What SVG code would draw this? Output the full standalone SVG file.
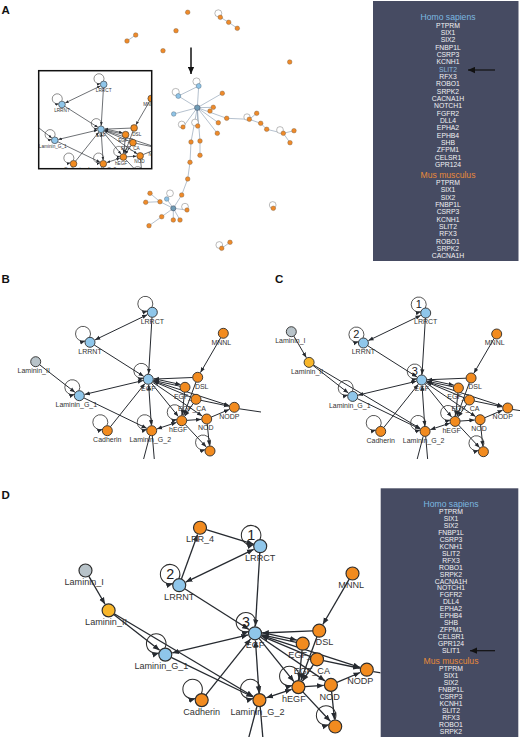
<svg xmlns="http://www.w3.org/2000/svg" xmlns:xlink="http://www.w3.org/1999/xlink" width="520" height="737" viewBox="0 0 520 737">
<style>
.lbl{font-family:"Liberation Sans",Arial,sans-serif;font-size:7px;fill:#333;text-anchor:middle}
.num{font-family:"Liberation Sans",Arial,sans-serif;font-size:11px;fill:#222;text-anchor:middle}
.pl{font-family:"Liberation Sans",Arial,sans-serif;font-weight:bold;font-size:11.5px;fill:#111}
.nb{fill:#8fc6ea;stroke:#2d2d2d;stroke-width:0.9}
.no{fill:#f28b1f;stroke:#2d2d2d;stroke-width:0.9}
.ng{fill:#b8c3c9;stroke:#2d2d2d;stroke-width:0.9}
.ny{fill:#f8b62a;stroke:#2d2d2d;stroke-width:0.9}
.lp{fill:none;stroke:#2d2d2d;stroke-width:0.8;marker-end:url(#ah)}
.e{stroke:#262a30;stroke-width:1;fill:none;marker-end:url(#ah)}
.e2{stroke:#262a30;stroke-width:1;fill:none;marker-start:url(#ah);marker-end:url(#ah)}
.ep{stroke:#262a30;stroke-width:1;fill:none}
.oe{stroke:#8397ad;stroke-width:0.6;fill:none}
.on{fill:#ee8a2a;stroke:#7a5a3a;stroke-width:0.4}
.ob{fill:#8fc3e6;stroke:#4a6070;stroke-width:0.4}
.oc{fill:#6f9bb5;stroke:#334;stroke-width:0.4}
.ol{fill:#fff;stroke:#777;stroke-width:0.5}
.box{fill:#464b62}
.li{font-family:"Liberation Sans",Arial,sans-serif;font-size:6.8px;fill:#f2f2f4;text-anchor:middle}
.hs{font-family:"Liberation Sans",Arial,sans-serif;font-size:8.6px;fill:#7cb8e0;text-anchor:middle}
.mm{font-family:"Liberation Sans",Arial,sans-serif;font-size:8.6px;fill:#e88a3a;text-anchor:middle}
</style>
<defs>
<marker id="ah" viewBox="0 0 10 10" refX="10" refY="5" markerWidth="5.2" markerHeight="5.2" markerUnits="userSpaceOnUse" orient="auto-start-reverse"><path d="M0,1L10,5L0,9z" fill="#262a30"/></marker>
<marker id="bigah" viewBox="0 0 10 10" refX="10" refY="5" markerWidth="7" markerHeight="7" markerUnits="userSpaceOnUse" orient="auto"><path d="M0,0.5L10,5L0,9.5z" fill="#111"/></marker>
<path id="lp" class="lp" d="M-0.37,-4.99A7.5,7.5 0 1 0 -4.82,-1.32"/>
<clipPath id="clipB"><rect x="0" y="286" width="261" height="173"/></clipPath>
<clipPath id="clipC"><rect x="261" y="286" width="259" height="173"/></clipPath>
<clipPath id="clipD"><rect x="0" y="462" width="380.5" height="275"/></clipPath>
<clipPath id="clipIn"><rect x="38.7" y="70.7" width="113" height="98"/></clipPath>
</defs>
<rect width="520" height="737" fill="#fff"/>

<!-- Panel labels -->
<text class="pl" x="1.5" y="13.5">A</text>
<text class="pl" x="1.5" y="283">B</text>
<text class="pl" x="275" y="283">C</text>
<text class="pl" x="1.5" y="499">D</text>

<!-- Panel A overview network -->
<g id="overview">
<g id="overview-edges">
<line class="oe" x1="220.3" y1="17.3" x2="228.7" y2="22.3"/><line class="oe" x1="228.7" y1="22.3" x2="237.3" y2="28.3"/>
<line class="oe" x1="135.7" y1="35" x2="127" y2="41"/>
<line class="oe" x1="197.3" y1="107.7" x2="198.7" y2="86"/><line class="oe" x1="197.3" y1="107.7" x2="178.3" y2="96"/>
<line class="oe" x1="197.3" y1="107.7" x2="173.7" y2="114"/><line class="oe" x1="197.3" y1="107.7" x2="222.3" y2="93.3"/>
<line class="oe" x1="197.3" y1="107.7" x2="213.3" y2="107.3"/><line class="oe" x1="197.3" y1="107.7" x2="226.7" y2="118.3"/>
<line class="oe" x1="197.3" y1="107.7" x2="218.3" y2="122.7"/><line class="oe" x1="197.3" y1="107.7" x2="217.3" y2="133.3"/>
<line class="oe" x1="197.3" y1="107.7" x2="197.7" y2="126"/><line class="oe" x1="197.3" y1="107.7" x2="183" y2="127"/>
<line class="oe" x1="197.3" y1="107.7" x2="191" y2="142"/><line class="oe" x1="197.3" y1="107.7" x2="200" y2="141"/>
<line class="oe" x1="198.7" y1="86" x2="178.3" y2="96"/>
<line class="oe" x1="226.7" y1="118.3" x2="249.3" y2="119.3"/><line class="oe" x1="249.3" y1="119.3" x2="256.7" y2="113.3"/>
<line class="oe" x1="249.3" y1="119.3" x2="260.7" y2="123.3"/><line class="oe" x1="260.7" y1="123.3" x2="266.7" y2="129.3"/>
<line class="oe" x1="266.7" y1="129.3" x2="283.3" y2="133.3"/><line class="oe" x1="283.3" y1="133.3" x2="294" y2="130.7"/>
<line class="oe" x1="283.3" y1="133.3" x2="290" y2="142.7"/>
<line class="oe" x1="191" y1="142" x2="190" y2="162.3"/><line class="oe" x1="200" y1="141" x2="200" y2="155.3"/>
<line class="oe" x1="190" y1="162.3" x2="187.7" y2="179"/><line class="oe" x1="187.7" y1="179" x2="181.7" y2="195"/>
<line class="oe" x1="181.7" y1="195" x2="173.3" y2="208.3"/>
<line class="oe" x1="173.3" y1="208.3" x2="160" y2="201.7"/><line class="oe" x1="173.3" y1="208.3" x2="166.7" y2="199"/>
<line class="oe" x1="173.3" y1="208.3" x2="161.7" y2="216.7"/><line class="oe" x1="173.3" y1="208.3" x2="173.3" y2="220"/>
<line class="oe" x1="173.3" y1="208.3" x2="180" y2="220"/><line class="oe" x1="173.3" y1="208.3" x2="187" y2="210"/>
<line class="oe" x1="150" y1="193.3" x2="160" y2="201.7"/><line class="oe" x1="145.7" y1="202.3" x2="160" y2="201.7"/>
<line class="oe" x1="161.7" y1="216.7" x2="149" y2="225.7"/>
<line class="oe" x1="221.7" y1="248.3" x2="230" y2="242.3"/>
</g>
<g id="overview-nodes">
<circle class="ol" cx="218.3" cy="13.3" r="3.5"/><circle class="ol" cx="196.5" cy="81.5" r="3.6"/><circle class="ol" cx="175.7" cy="92" r="3.6"/>
<circle class="ol" cx="195" cy="122.5" r="3.4"/><circle class="ol" cx="181.7" cy="124.5" r="3.4"/><circle class="ol" cx="280" cy="130" r="3.4"/>
<circle class="ol" cx="170" cy="193.3" r="3.4"/><circle class="ol" cx="185" cy="206.7" r="3.4"/><circle class="ol" cx="272.7" cy="205" r="3.4"/>
<circle class="ol" cx="219.3" cy="245" r="3.4"/><circle class="ol" cx="247" cy="117" r="3.2"/>
<circle class="on" cx="187.7" cy="12.3" r="2.3"/><circle class="on" cx="220.3" cy="17.3" r="2.3"/><circle class="on" cx="228.7" cy="22.3" r="2.3"/>
<circle class="on" cx="237.3" cy="28.3" r="2.3"/><circle class="on" cx="176" cy="30.7" r="2.3"/><circle class="on" cx="135.7" cy="35" r="2.3"/>
<circle class="on" cx="127" cy="41" r="2.3"/><circle class="on" cx="163" cy="50.7" r="2.3"/><circle class="on" cx="289.7" cy="62" r="2.3"/>
<circle class="ob" cx="198.7" cy="86" r="2.5"/><circle class="ob" cx="178.3" cy="96" r="2.5"/><circle class="ob" cx="173.7" cy="114" r="2.3"/>
<circle class="on" cx="222.3" cy="93.3" r="2.3"/><circle class="on" cx="213.3" cy="107.3" r="2.3"/><circle class="on" cx="210" cy="111" r="2.3"/>
<circle class="on" cx="226.7" cy="118.3" r="2.3"/><circle class="on" cx="218.3" cy="122.7" r="2.3"/><circle class="on" cx="217.3" cy="133.3" r="2.3"/>
<circle class="on" cx="197.7" cy="126" r="2.3"/><circle class="on" cx="183" cy="127" r="2.2"/>
<circle class="on" cx="256.7" cy="113.3" r="2.3"/><circle class="on" cx="249.3" cy="119.3" r="2.3"/><circle class="on" cx="260.7" cy="123.3" r="2.3"/>
<circle class="on" cx="266.7" cy="129.3" r="2.3"/><circle class="on" cx="283.3" cy="133.3" r="2.3"/><circle class="on" cx="294" cy="130.7" r="2.3"/>
<circle class="on" cx="290" cy="142.7" r="2.3"/>
<circle class="on" cx="191" cy="142" r="2.3"/><circle class="on" cx="200" cy="141" r="2.3"/><circle class="on" cx="200" cy="155.3" r="2.3"/>
<circle class="on" cx="190" cy="162.3" r="2.3"/><circle class="on" cx="187.7" cy="179" r="2.3"/><circle class="on" cx="181.7" cy="195" r="2.3"/>
<circle class="on" cx="150" cy="193.3" r="2.3"/><circle class="on" cx="145.7" cy="202.3" r="2.3"/><circle class="on" cx="160" cy="201.7" r="2.3"/>
<circle class="ob" cx="166.7" cy="199" r="2.3"/><circle class="on" cx="187" cy="210" r="2.2"/><circle class="on" cx="161.7" cy="216.7" r="2.3"/>
<circle class="on" cx="149" cy="225.7" r="2.3"/><circle class="on" cx="173.3" cy="220" r="2.3"/><circle class="on" cx="180" cy="220" r="2.3"/>
<circle class="oc" cx="173.3" cy="208.3" r="2.6"/>
<circle class="on" cx="273.3" cy="208.3" r="2.3"/><circle class="on" cx="221.7" cy="248.3" r="2.3"/><circle class="on" cx="230" cy="242.3" r="2.3"/>
<circle class="oc" cx="197.3" cy="107.7" r="2.8"/>
</g>
<line x1="191" y1="47.5" x2="191" y2="74" stroke="#111" stroke-width="1.5" marker-end="url(#bigah)"/>
</g>

<!-- Panel A inset (zoom of panel B network) -->
<g id="inset">
<rect x="38.7" y="70.7" width="113" height="98" fill="#fff"/>
<g clip-path="url(#clipIn)"><use xlink:href="#b-net" href="#b-net" transform="translate(101,129.3) scale(0.67) translate(-148.3,-379.3)"/></g>
<rect x="38.7" y="70.7" width="113" height="98" fill="none" stroke="#111" stroke-width="1.5"/>
</g>

<!-- Panel A list -->
<g id="listA">
<rect class="box" x="373" y="1" width="145.5" height="260"/>
<text class="hs" x="448" y="20.3">Homo sapiens</text>
<text class="li" x="448" y="27.5">PTPRM<tspan x="448" dy="7.35">SIX1</tspan><tspan x="448" dy="7.35">SIX2</tspan><tspan x="448" dy="7.35">FNBP1L</tspan><tspan x="448" dy="7.35">CSRP3</tspan><tspan x="448" dy="7.35">KCNH1</tspan><tspan x="448" dy="7.35" fill="#8ab8dc">SLIT2</tspan><tspan x="448" dy="7.35">RFX3</tspan><tspan x="448" dy="7.35">ROBO1</tspan><tspan x="448" dy="7.35">SRPK2</tspan><tspan x="448" dy="7.35">CACNA1H</tspan><tspan x="448" dy="7.35">NOTCH1</tspan><tspan x="448" dy="7.35">FGFR2</tspan><tspan x="448" dy="7.35">DLL4</tspan><tspan x="448" dy="7.35">EPHA2</tspan><tspan x="448" dy="7.35">EPHB4</tspan><tspan x="448" dy="7.35">SHB</tspan><tspan x="448" dy="7.35">ZFPM1</tspan><tspan x="448" dy="7.35">CELSR1</tspan><tspan x="448" dy="7.35">GPR124</tspan></text>
<text class="mm" x="448" y="177.6">Mus musculus</text>
<text class="li" x="448" y="184.8">PTPRM<tspan x="448" dy="7.35">SIX1</tspan><tspan x="448" dy="7.35">SIX2</tspan><tspan x="448" dy="7.35">FNBP1L</tspan><tspan x="448" dy="7.35">CSRP3</tspan><tspan x="448" dy="7.35">KCNH1</tspan><tspan x="448" dy="7.35">SLIT2</tspan><tspan x="448" dy="7.35">RFX3</tspan><tspan x="448" dy="7.35">ROBO1</tspan><tspan x="448" dy="7.35">SRPK2</tspan><tspan x="448" dy="7.35">CACNA1H</tspan></text>
<line x1="495" y1="70" x2="468" y2="70" stroke="#111" stroke-width="1.2" marker-end="url(#bigah)"/>
</g>

<!-- Panel B -->
<g id="panelB" clip-path="url(#clipB)">
<g id="b-net" transform="translate(148.3,379.3)">
<g id="b-edges">
<line class="e2" x1="-0.96" y1="-64.61" x2="-53.34" y2="-39.39"/>
<line class="e" x1="3.7" y1="-62" x2="0.33" y2="-5.49"/>
<line class="e" x1="-54.08" y1="-34.32" x2="-4.64" y2="-2.95"/>
<line class="e" x1="-108.66" y1="-14.53" x2="-73.34" y2="13.02"/>
<line class="e2" x1="-63.65" y1="15.13" x2="-5.35" y2="1.27"/>
<line class="e" x1="-64.5" y1="18.58" x2="-1.55" y2="49.01"/>
<line class="e" x1="-37.88" y1="47.49" x2="-3.43" y2="4.3"/>
<line class="e2" x1="0.36" y1="5.49" x2="3.04" y2="45.91"/>
<line class="e2" x1="8.62" y1="49.66" x2="28.18" y2="43.14"/>
<line class="e" x1="72.48" y1="-41.68" x2="52.17" y2="-6.75"/>
<line class="e" x1="44.4" y1="-1.8" x2="5.5" y2="-0.22"/>
<line class="e" x1="31.81" y1="6.93" x2="5.37" y2="1.17"/>
<line class="e" x1="5.75" y1="-0.59" x2="32.19" y2="5.17"/>
<line class="e" x1="43.09" y1="18.07" x2="5.07" y2="2.13"/>
<line class="e" x1="4.75" y1="1.55" x2="80.77" y2="26.3"/>
<line class="e" x1="4.13" y1="2.81" x2="53.85" y2="36.61"/>
<line class="e" x1="3.14" y1="3.89" x2="29.95" y2="37.12"/>
<line class="e" x1="36.81" y1="45.05" x2="57.95" y2="67.68"/>
<line class="e" x1="47.67" y1="2.69" x2="35.3" y2="36.24"/>
<line class="e" x1="36.21" y1="12.98" x2="33.94" y2="35.93"/>
<line class="e" x1="44.92" y1="24.16" x2="36.46" y2="36.83"/>
<line class="e" x1="38.39" y1="41.06" x2="52.91" y2="40.07"/>
<line class="e" x1="52.59" y1="21.02" x2="80.62" y2="26.88"/>
<line class="e" x1="63" y1="37.75" x2="80.94" y2="30.15"/>
<line class="e" x1="58.91" y1="44.67" x2="61.14" y2="66.23"/>
<line class="ep" x1="91" y1="29.5" x2="135" y2="36"/>
<line class="ep" x1="1.5" y1="56.3" x2="-14" y2="115"/>
<line class="ep" x1="4" y1="56.5" x2="9" y2="115"/>
</g>
<g id="b-lrrct" transform="translate(4,-67)"><use href="#lp"/><circle class="nb" r="5"/><text class="lbl" y="11.3">LRRCT</text></g>
<g id="b-lrrnt" transform="translate(-58.3,-37)"><use href="#lp"/><circle class="nb" r="5"/><text class="lbl" y="11.3">LRRNT</text></g>
<g id="b-laminin-ii" transform="translate(-112.6,-17.6)"><circle class="ng" r="5"/><text class="lbl" x="-2" y="11.3">Laminin_II</text></g>
<g id="b-laminin-g1" transform="translate(-69,16.4)"><use href="#lp"/><circle class="nb" r="5"/><text class="lbl" x="-3" y="11.3">Laminin_G_1</text></g>
<g id="b-mnnl" transform="translate(75,-46)"><circle class="no" r="5"/><text class="lbl" x="-2" y="11.3">MNNL</text></g>
<g id="b-dsl" transform="translate(49.4,-2)"><circle class="no" r="5"/><text class="lbl" x="4" y="11.3">DSL</text></g>
<g id="b-egf2" transform="translate(36.7,8)"><circle class="no" r="5"/><text class="lbl" y="11.3">EGF_2</text></g>
<g id="b-egfca" transform="translate(47.7,20)"><circle class="no" r="5"/><text class="lbl" x="-4" y="11.3">EGF_CA</text></g>
<g id="b-hegf" transform="translate(33.4,41.4)"><use href="#lp"/><circle class="no" r="5"/><text class="lbl" x="-3.5" y="11.3">hEGF</text></g>
<g id="b-nod" transform="translate(58.4,39.7)"><circle class="no" r="5"/><text class="lbl" x="-1" y="11.3">NOD</text></g>
<g id="b-nodp" transform="translate(86,28)"><circle class="no" r="5"/><text class="lbl" x="-5" y="11.3">NODP</text></g>
<g id="b-cadherin" transform="translate(-41,51.4)"><use href="#lp"/><circle class="no" r="5"/><text class="lbl" y="11.3">Cadherin</text></g>
<g id="b-laminin-g2" transform="translate(3.4,51.4)"><use href="#lp"/><circle class="no" r="5"/><text class="lbl" x="-1.5" y="11.3">Laminin_G_2</text></g>
<g id="b-bottom" transform="translate(61.7,71.7)"><use href="#lp"/><circle class="no" r="5"/></g>
<g id="b-egf" transform="translate(0,0)"><use href="#lp"/><circle class="nb" r="5"/><text class="lbl" y="11.3">EGF</text></g>
</g>
</g>

<!-- Panel C -->
<g id="panelC" clip-path="url(#clipC)">
<g id="c-net" transform="translate(421.7,380)">
<g id="c-edges">
<line class="e" x1="-127.89" y1="-43.98" x2="-115.36" y2="-22.36"/>
<line class="e" x1="-108.3" y1="-15.04" x2="-1.33" y2="48.59"/>
<line class="e2" x1="-0.96" y1="-64.61" x2="-53.34" y2="-39.39"/>
<line class="e" x1="3.7" y1="-62" x2="0.33" y2="-5.49"/>
<line class="e" x1="-54.08" y1="-34.32" x2="-4.64" y2="-2.95"/>
<line class="e" x1="-108.66" y1="-14.53" x2="-73.34" y2="13.02"/>
<line class="e2" x1="-63.65" y1="15.13" x2="-5.35" y2="1.27"/>
<line class="e" x1="-64.5" y1="18.58" x2="-1.55" y2="49.01"/>
<line class="e" x1="-37.88" y1="47.49" x2="-3.43" y2="4.3"/>
<line class="e2" x1="0.36" y1="5.49" x2="3.04" y2="45.91"/>
<line class="e2" x1="8.62" y1="49.66" x2="28.18" y2="43.14"/>
<line class="e" x1="72.48" y1="-41.68" x2="52.17" y2="-6.75"/>
<line class="e" x1="44.4" y1="-1.8" x2="5.5" y2="-0.22"/>
<line class="e" x1="31.81" y1="6.93" x2="5.37" y2="1.17"/>
<line class="e" x1="5.75" y1="-0.59" x2="32.19" y2="5.17"/>
<line class="e" x1="43.09" y1="18.07" x2="5.07" y2="2.13"/>
<line class="e" x1="4.75" y1="1.55" x2="80.77" y2="26.3"/>
<line class="e" x1="4.13" y1="2.81" x2="53.85" y2="36.61"/>
<line class="e" x1="3.14" y1="3.89" x2="29.95" y2="37.12"/>
<line class="e" x1="36.81" y1="45.05" x2="57.95" y2="67.68"/>
<line class="e" x1="47.67" y1="2.69" x2="35.3" y2="36.24"/>
<line class="e" x1="36.21" y1="12.98" x2="33.94" y2="35.93"/>
<line class="e" x1="44.92" y1="24.16" x2="36.46" y2="36.83"/>
<line class="e" x1="38.39" y1="41.06" x2="52.91" y2="40.07"/>
<line class="e" x1="52.59" y1="21.02" x2="80.62" y2="26.88"/>
<line class="e" x1="63" y1="37.75" x2="80.94" y2="30.15"/>
<line class="e" x1="58.91" y1="44.67" x2="61.14" y2="66.23"/>
<line class="ep" x1="91" y1="29.5" x2="135" y2="36"/>
<line class="ep" x1="1.5" y1="56.3" x2="-14" y2="115"/>
<line class="ep" x1="4" y1="56.5" x2="9" y2="115"/>
</g>
<g id="c-laminin-i" transform="translate(-130.4,-48.3)"><circle class="ng" r="5"/><text class="lbl" x="-1" y="11.3">Laminin_I</text></g>
<g id="c-laminin-ii" transform="translate(-112.6,-17.6)"><circle class="ny" r="5"/><text class="lbl" x="-2" y="11.3">Laminin_II</text></g>
<g id="c-lrrct" transform="translate(4,-67)"><use href="#lp"/><text class="num" x="-7" y="-4.6">1</text><circle class="nb" r="5"/><text class="lbl" y="11.3">LRRCT</text></g>
<g id="c-lrrnt" transform="translate(-58.3,-37)"><use href="#lp"/><text class="num" x="-7" y="-4.6">2</text><circle class="nb" r="5"/><text class="lbl" y="11.3">LRRNT</text></g>
<g id="c-laminin-g1" transform="translate(-69,16.4)"><use href="#lp"/><circle class="nb" r="5"/><text class="lbl" x="-3" y="11.3">Laminin_G_1</text></g>
<g id="c-mnnl" transform="translate(75,-46)"><circle class="no" r="5"/><text class="lbl" x="-2" y="11.3">MNNL</text></g>
<g id="c-dsl" transform="translate(49.4,-2)"><circle class="no" r="5"/><text class="lbl" x="4" y="11.3">DSL</text></g>
<g id="c-egf2" transform="translate(36.7,8)"><circle class="no" r="5"/><text class="lbl" y="11.3">EGF_2</text></g>
<g id="c-egfca" transform="translate(47.7,20)"><circle class="no" r="5"/><text class="lbl" x="-4" y="11.3">EGF_CA</text></g>
<g id="c-hegf" transform="translate(33.4,41.4)"><use href="#lp"/><circle class="no" r="5"/><text class="lbl" x="-3.5" y="11.3">hEGF</text></g>
<g id="c-nod" transform="translate(58.4,39.7)"><circle class="no" r="5"/><text class="lbl" x="-1" y="11.3">NOD</text></g>
<g id="c-nodp" transform="translate(86,28)"><circle class="no" r="5"/><text class="lbl" x="-5" y="11.3">NODP</text></g>
<g id="c-cadherin" transform="translate(-41,51.4)"><use href="#lp"/><circle class="no" r="5"/><text class="lbl" y="11.3">Cadherin</text></g>
<g id="c-laminin-g2" transform="translate(3.4,51.4)"><use href="#lp"/><circle class="no" r="5"/><text class="lbl" x="-1.5" y="11.3">Laminin_G_2</text></g>
<g id="c-bottom" transform="translate(61.7,71.7)"><use href="#lp"/><circle class="no" r="5"/></g>
<g id="c-egf" transform="translate(0,0)"><use href="#lp"/><text class="num" x="-7" y="-4.6">3</text><circle class="nb" r="5"/><text class="lbl" y="11.3">EGF</text></g>
</g>
</g>

<!-- Panel D -->
<g id="panelD" clip-path="url(#clipD)">
<g id="d-net" transform="translate(255,633.3) scale(1.3)">
<g id="d-edges">
<line class="e" x1="-56.6" y1="-41.7" x2="-44.17" y2="-76.03"/>
<line class="e" x1="-37.52" y1="-79.73" x2="-1.26" y2="-68.61"/>
<line class="e" x1="-127.89" y1="-43.98" x2="-115.36" y2="-22.36"/>
<line class="e" x1="-108.3" y1="-15.04" x2="-1.33" y2="48.59"/>
<line class="e2" x1="-0.96" y1="-64.61" x2="-53.34" y2="-39.39"/>
<line class="e" x1="3.7" y1="-62" x2="0.33" y2="-5.49"/>
<line class="e" x1="-54.08" y1="-34.32" x2="-4.64" y2="-2.95"/>
<line class="e" x1="-108.66" y1="-14.53" x2="-73.34" y2="13.02"/>
<line class="e2" x1="-63.65" y1="15.13" x2="-5.35" y2="1.27"/>
<line class="e" x1="-64.5" y1="18.58" x2="-1.55" y2="49.01"/>
<line class="e" x1="-37.88" y1="47.49" x2="-3.43" y2="4.3"/>
<line class="e2" x1="0.36" y1="5.49" x2="3.04" y2="45.91"/>
<line class="e2" x1="8.62" y1="49.66" x2="28.18" y2="43.14"/>
<line class="e" x1="72.48" y1="-41.68" x2="52.17" y2="-6.75"/>
<line class="e" x1="44.4" y1="-1.8" x2="5.5" y2="-0.22"/>
<line class="e" x1="31.81" y1="6.93" x2="5.37" y2="1.17"/>
<line class="e" x1="5.75" y1="-0.59" x2="32.19" y2="5.17"/>
<line class="e" x1="43.09" y1="18.07" x2="5.07" y2="2.13"/>
<line class="e" x1="4.75" y1="1.55" x2="80.77" y2="26.3"/>
<line class="e" x1="4.13" y1="2.81" x2="53.85" y2="36.61"/>
<line class="e" x1="3.14" y1="3.89" x2="29.95" y2="37.12"/>
<line class="e" x1="36.81" y1="45.05" x2="57.95" y2="67.68"/>
<line class="e" x1="47.67" y1="2.69" x2="35.3" y2="36.24"/>
<line class="e" x1="36.21" y1="12.98" x2="33.94" y2="35.93"/>
<line class="e" x1="44.92" y1="24.16" x2="36.46" y2="36.83"/>
<line class="e" x1="38.39" y1="41.06" x2="52.91" y2="40.07"/>
<line class="e" x1="52.59" y1="21.02" x2="80.62" y2="26.88"/>
<line class="e" x1="63" y1="37.75" x2="80.94" y2="30.15"/>
<line class="e" x1="58.91" y1="44.67" x2="61.14" y2="66.23"/>
<line class="ep" x1="91" y1="29.5" x2="135" y2="36"/>
<line class="ep" x1="1.5" y1="56.3" x2="-14" y2="115"/>
<line class="ep" x1="4" y1="56.5" x2="9" y2="115"/>
</g>
<g id="d-lrr4" transform="translate(-42.3,-81.2)"><circle class="no" r="5"/><text class="lbl" y="11.3">LRR_4</text></g>
<g id="d-laminin-i" transform="translate(-130.4,-48.3)"><circle class="ng" r="5"/><text class="lbl" x="-1" y="11.3">Laminin_I</text></g>
<g id="d-laminin-ii" transform="translate(-112.6,-17.6)"><circle class="ny" r="5"/><text class="lbl" x="-2" y="11.3">Laminin_II</text></g>
<g id="d-lrrct" transform="translate(4,-67)"><use href="#lp"/><text class="num" x="-7" y="-4.6">1</text><circle class="nb" r="5"/><text class="lbl" y="11.3">LRRCT</text></g>
<g id="d-lrrnt" transform="translate(-58.3,-37)"><use href="#lp"/><text class="num" x="-7" y="-4.6">2</text><circle class="nb" r="5"/><text class="lbl" y="11.3">LRRNT</text></g>
<g id="d-laminin-g1" transform="translate(-69,16.4)"><use href="#lp"/><circle class="nb" r="5"/><text class="lbl" x="-3" y="11.3">Laminin_G_1</text></g>
<g id="d-mnnl" transform="translate(75,-46)"><circle class="no" r="5"/><text class="lbl" x="-1" y="11.3">MNNL</text></g>
<g id="d-dsl" transform="translate(49.4,-2)"><circle class="no" r="5"/><text class="lbl" x="4" y="11.3">DSL</text></g>
<g id="d-egf2" transform="translate(36.7,8)"><circle class="no" r="5"/><text class="lbl" y="11.3">EGF_2</text></g>
<g id="d-egfca" transform="translate(47.7,20)"><circle class="no" r="5"/><text class="lbl" x="-4" y="11.3">EGF_CA</text></g>
<g id="d-hegf" transform="translate(33.4,41.4)"><use href="#lp"/><circle class="no" r="5"/><text class="lbl" x="-3.5" y="11.3">hEGF</text></g>
<g id="d-nod" transform="translate(58.4,39.7)"><circle class="no" r="5"/><text class="lbl" x="-1" y="11.3">NOD</text></g>
<g id="d-nodp" transform="translate(86,28)"><circle class="no" r="5"/><text class="lbl" x="-5" y="11.3">NODP</text></g>
<g id="d-cadherin" transform="translate(-41,51.4)"><use href="#lp"/><circle class="no" r="5"/><text class="lbl" y="11.3">Cadherin</text></g>
<g id="d-laminin-g2" transform="translate(3.4,51.4)"><use href="#lp"/><circle class="no" r="5"/><text class="lbl" x="-1.5" y="11.3">Laminin_G_2</text></g>
<g id="d-bottom" transform="translate(61.7,71.7)"><use href="#lp"/><circle class="no" r="5"/></g>
<g id="d-egf" transform="translate(0,0)"><use href="#lp"/><text class="num" x="-7" y="-4.6">3</text><circle class="nb" r="5"/><text class="lbl" y="11.3">EGF</text></g>
</g>
</g>

<!-- Panel D list -->
<g id="listD">
<rect class="box" x="380.7" y="488.3" width="137.6" height="248.7"/>
<text class="hs" x="451" y="506.7">Homo sapiens</text>
<text class="li" x="451" y="513.8">PTPRM<tspan x="451" dy="6.97">SIX1</tspan><tspan x="451" dy="6.97">SIX2</tspan><tspan x="451" dy="6.97">FNBP1L</tspan><tspan x="451" dy="6.97">CSRP3</tspan><tspan x="451" dy="6.97">KCNH1</tspan><tspan x="451" dy="6.97">SLIT2</tspan><tspan x="451" dy="6.97">RFX3</tspan><tspan x="451" dy="6.97">ROBO1</tspan><tspan x="451" dy="6.97">SRPK2</tspan><tspan x="451" dy="6.97">CACNA1H</tspan><tspan x="451" dy="6.97">NOTCH1</tspan><tspan x="451" dy="6.97">FGFR2</tspan><tspan x="451" dy="6.97">DLL4</tspan><tspan x="451" dy="6.97">EPHA2</tspan><tspan x="451" dy="6.97">EPHB4</tspan><tspan x="451" dy="6.97">SHB</tspan><tspan x="451" dy="6.97">ZFPM1</tspan><tspan x="451" dy="6.97">CELSR1</tspan><tspan x="451" dy="6.97">GPR124</tspan><tspan x="451" dy="6.97">SLIT1</tspan></text>
<text class="mm" x="451" y="664.3">Mus musculus</text>
<text class="li" x="451" y="671.2">PTPRM<tspan x="451" dy="6.97">SIX1</tspan><tspan x="451" dy="6.97">SIX2</tspan><tspan x="451" dy="6.97">FNBP1L</tspan><tspan x="451" dy="6.97">CSRP3</tspan><tspan x="451" dy="6.97">KCNH1</tspan><tspan x="451" dy="6.97">SLIT2</tspan><tspan x="451" dy="6.97">RFX3</tspan><tspan x="451" dy="6.97">ROBO1</tspan><tspan x="451" dy="6.97">SRPK2</tspan></text>
<line x1="495" y1="650.7" x2="470" y2="650.7" stroke="#111" stroke-width="1.2" marker-end="url(#bigah)"/>
</g>
</svg>
